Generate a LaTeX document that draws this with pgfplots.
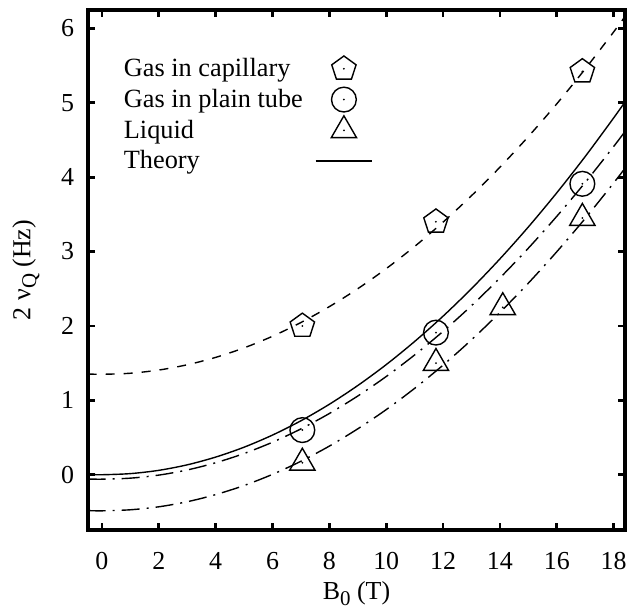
\documentclass[border=0pt]{standalone}
\usepackage{fontspec}
\setmainfont{Liberation Serif}
\usepackage{pgfplots}
\pgfplotsset{compat=1.18}
\usetikzlibrary{plotmarks}

% gnuplot-like marks: open symbol with a dot at the data point
\pgfdeclareplotmark{pentdot}{\pgfuseplotmark{pentagon}\pgfpathcircle{\pgfpointorigin}{0.5bp}\pgfusepathqfill}
\pgfdeclareplotmark{circdot}{\pgfuseplotmark{o}\pgfpathcircle{\pgfpointorigin}{0.5bp}\pgfusepathqfill}
\pgfdeclareplotmark{tridot}{\pgfuseplotmark{triangle}\pgfpathcircle{\pgfpointorigin}{0.5bp}\pgfusepathqfill}
\newcommand\sub[1]{\raisebox{-0.5ex}{\fontsize{10.5}{12}\selectfont #1}}

\begin{document}
\begin{tikzpicture}
\begin{axis}[
    name=ax,
    scale only axis,
    width=268.5bp, height=260bp,
    xmin=-0.49, xmax=18.4,
    ymin=-0.743, ymax=6.246,
    xtick={0,2,...,18},
    ytick={0,1,...,6},
    tick align=inside,
    major tick length=3.5bp,
    every tick/.style={black, line width=1.4bp},
    separate axis lines,
    every outer x axis line/.append style={line width=1.6bp, line cap=rect},
    every outer y axis line/.append style={line width=1.6bp, line cap=rect},
    font=\fontsize{13}{15}\selectfont,
    tick label style={font=\fontsize{13}{15}\selectfont},
    /pgf/number format/assume math mode=true,
    xticklabel style={yshift=-7.5bp},
    yticklabel style={xshift=-3.5bp},
    xlabel={B\sub{0} (T)},
    ylabel={2 ν\sub{Q} (Hz)},
    xlabel style={at={(axis description cs:0.5,-0.085)}, anchor=north},
    ylabel style={at={(axis description cs:-0.1155,0.5)}, anchor=center},
    legend style={draw=none, fill=none, at={(0.055,0.925)}, anchor=north west,
        font=\fontsize{13.2}{15}\selectfont, row sep=0pt, column sep=6bp,
        nodes={inner sep=0pt, minimum height=15.4bp}},
    legend cell align=left,
    legend plot pos=right,
    legend image code/.code={\draw[mark repeat=2,mark phase=2] plot coordinates {(0cm,0cm) (0.5cm,0cm) (1cm,0cm)};},
]
% measured points
\addplot[only marks, mark=pentdot, mark size=6.4bp, mark options={line width=0.7bp, solid}]
    coordinates {(7.05,2.00) (11.75,3.40) (16.9,5.42)};
\addlegendentry{Gas in capillary}
\addplot[only marks, mark=circdot, mark size=6.2bp, mark options={line width=0.7bp, solid}]
    coordinates {(7.05,0.60) (11.75,1.91) (16.9,3.91)};
\addlegendentry{Gas in plain tube}
\addplot[only marks, mark=tridot, mark size=7.3bp, mark options={line width=0.7bp, solid}]
    coordinates {(7.05,0.16) (11.75,1.50) (14.1,2.25) (16.9,3.45)};
\addlegendentry{Liquid}
% theory
\addplot[line width=0.7bp, smooth, no marks] coordinates {
    (-0.5,0.004) (0,0) (1,0.015) (2,0.059) (3,0.133) (4,0.237) (5,0.370)
    (6,0.533) (7,0.725) (8,0.947) (9,1.199) (10,1.480) (11,1.791) (12,2.131)
    (13,2.501) (14,2.901) (15,3.330) (16,3.789) (17,4.277) (18,4.795) (18.45,5.038)};
\addlegendentry{Theory}
% fits
\addplot[line width=0.7bp, smooth, no marks, dash pattern=on 4.5bp off 4.5bp, forget plot] coordinates {
    (-0.5,1.354) (0,1.350) (1,1.364) (2,1.407) (3,1.478) (4,1.577) (5,1.705)
    (6,1.861) (7,2.046) (8,2.259) (9,2.500) (10,2.770) (11,3.068) (12,3.395)
    (13,3.750) (14,4.133) (15,4.545) (16,4.985) (17,5.454) (18,5.951) (18.45,6.184)};
\addplot[line width=0.7bp, smooth, no marks, dash pattern=on 9bp off 3.5bp on 1bp off 3.5bp, forget plot] coordinates {
    (-0.5,-0.057) (0,-0.060) (1,-0.046) (2,-0.005) (3,0.064) (4,0.161) (5,0.285)
    (6,0.437) (7,0.616) (8,0.823) (9,1.058) (10,1.320) (11,1.610) (12,1.927)
    (13,2.272) (14,2.645) (15,3.045) (16,3.473) (17,3.928) (18,4.411) (18.45,4.638)};
\addplot[line width=0.7bp, smooth, no marks, dash pattern=on 9bp off 3.5bp on 1bp off 3.5bp, forget plot] coordinates {
    (-0.5,-0.482) (0,-0.485) (1,-0.471) (2,-0.431) (3,-0.363) (4,-0.267) (5,-0.145)
    (6,0.005) (7,0.181) (8,0.385) (9,0.617) (10,0.875) (11,1.161) (12,1.473)
    (13,1.813) (14,2.181) (15,2.575) (16,2.997) (17,3.445) (18,3.921) (18.45,4.144)};
\end{axis}
\path ([xshift=-44bp,yshift=-41bp]ax.south west) rectangle ([xshift=4.5bp,yshift=5bp]ax.north east);
\end{tikzpicture}
\end{document}
